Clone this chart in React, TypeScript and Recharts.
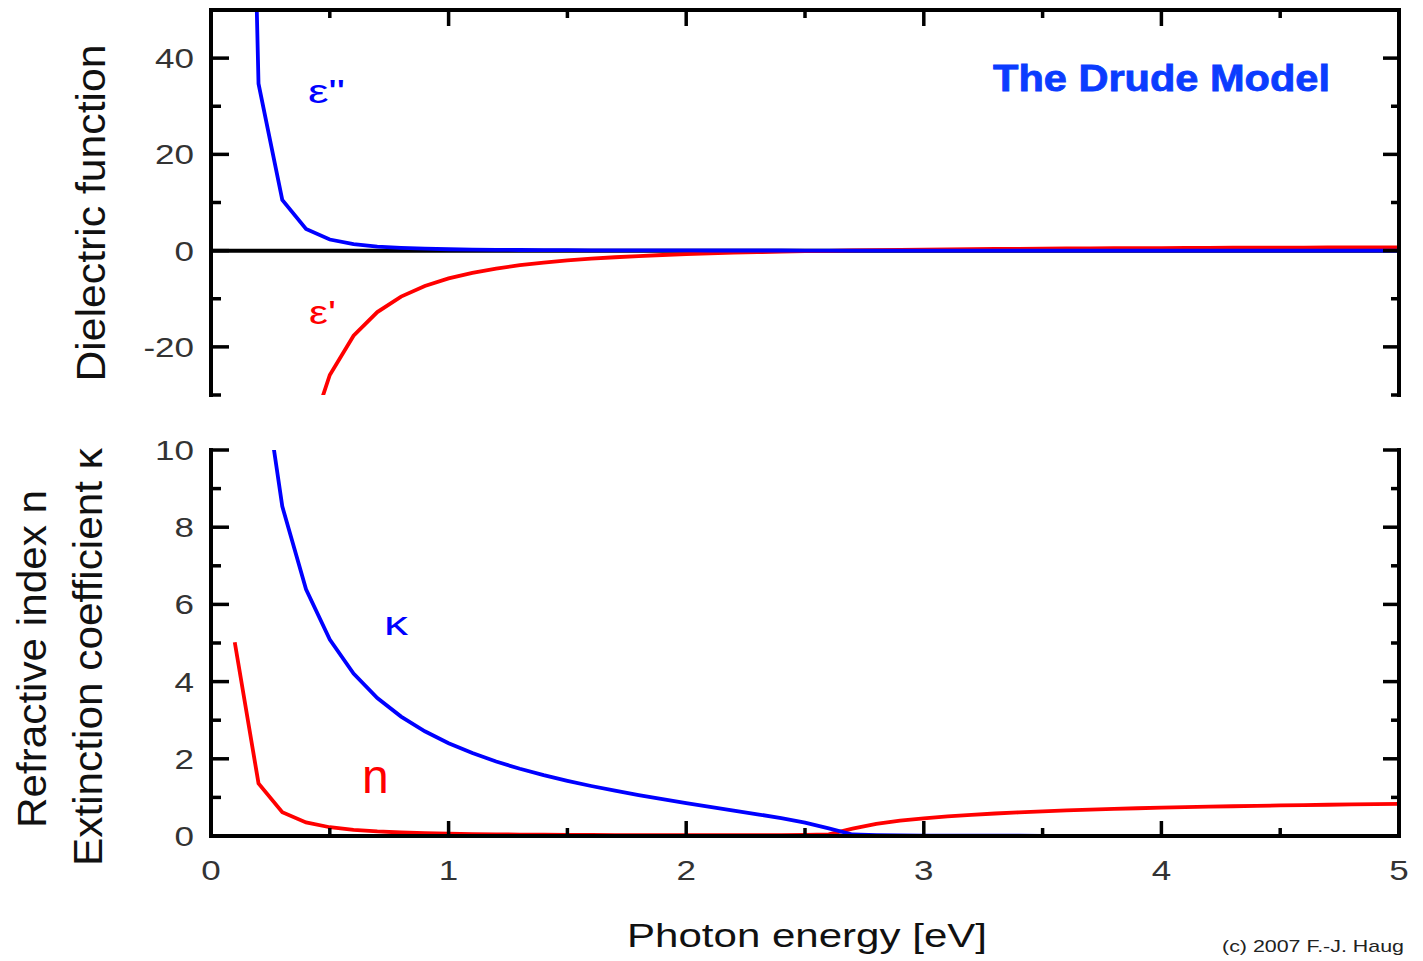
import React from 'react';
import { LineChart, Line, XAxis, YAxis, ReferenceLine } from 'recharts';

// Photon energy [eV]
const energy = [
  0.1, 0.2, 0.3, 0.4, 0.5, 0.6, 0.7, 0.8, 0.9, 1.0,
  1.1, 1.2, 1.3, 1.4, 1.5, 1.6, 1.7, 1.8, 1.9, 2.0,
  2.1, 2.2, 2.3, 2.4, 2.5, 2.6, 2.7, 2.8, 2.9, 3.0,
  3.1, 3.2, 3.3, 3.4, 3.5, 3.6, 3.7, 3.8, 3.9, 4.0,
  4.1, 4.2, 4.3, 4.4, 4.5, 4.6, 4.7, 4.8, 4.9, 5.0,
];

// epsilon' (real part of dielectric function)
const epsReal = [
  -568.7, -160.3, -72.53, -40.75, -25.84, -17.69, -12.76, -9.557, -7.354, -5.778,
  -4.61, -3.722, -3.03, -2.481, -2.038, -1.675, -1.374, -1.122, -0.909, -0.727,
  -0.57, -0.434, -0.316, -0.212, -0.12, -0.038, 0.034, 0.099, 0.158, 0.21,
  0.258, 0.301, 0.34, 0.376, 0.409, 0.439, 0.467, 0.493, 0.516, 0.538,
  0.559, 0.577, 0.595, 0.611, 0.627, 0.641, 0.654, 0.667, 0.679, 0.69,
];

// epsilon'' (imaginary part of dielectric function)
const epsImag = [
  244.9, 34.68, 10.53, 4.48, 2.31, 1.34, 0.84, 0.57, 0.4, 0.29,
  0.22, 0.17, 0.13, 0.11, 0.086, 0.071, 0.059, 0.05, 0.042, 0.036,
  0.031, 0.027, 0.024, 0.021, 0.019, 0.017, 0.015, 0.013, 0.012, 0.011,
  0.0097, 0.0089, 0.0081, 0.0074, 0.0068, 0.0062, 0.0057, 0.0053, 0.0049, 0.0045,
  0.0042, 0.0039, 0.0037, 0.0034, 0.0032, 0.003, 0.0028, 0.0026, 0.0025, 0.0023,
];

// refractive index n
const nVals = [
  5.02, 1.362, 0.617, 0.351, 0.227, 0.159, 0.118, 0.091, 0.073, 0.06,
  0.051, 0.044, 0.038, 0.034, 0.03, 0.027, 0.025, 0.024, 0.022, 0.021,
  0.021, 0.021, 0.021, 0.023, 0.027, 0.041, 0.189, 0.316, 0.397, 0.459,
  0.508, 0.549, 0.583, 0.613, 0.64, 0.663, 0.683, 0.702, 0.719, 0.734,
  0.747, 0.76, 0.771, 0.782, 0.792, 0.801, 0.809, 0.817, 0.824, 0.831,
];

// extinction coefficient kappa
const kappaVals = [
  24.37, 12.735, 8.539, 6.393, 5.089, 4.21, 3.575, 3.093, 2.713, 2.404,
  2.148, 1.93, 1.741, 1.575, 1.428, 1.295, 1.173, 1.06, 0.954, 0.853,
  0.755, 0.659, 0.562, 0.461, 0.347, 0.2, 0.039, 0.021, 0.015, 0.012,
  0.0096, 0.0081, 0.0069, 0.006, 0.0053, 0.0047, 0.0042, 0.0038, 0.0034, 0.0031,
  0.0028, 0.0026, 0.0024, 0.0022, 0.002, 0.0019, 0.0017, 0.0016, 0.0015, 0.0014,
];

const xTicks = [0, 0.5, 1, 1.5, 2, 2.5, 3, 3.5, 4, 4.5, 5];
const xMajor = [0, 1, 2, 3, 4, 5];
const xTickLabels = [0, 1, 2, 3, 4, 5];
const epsTicks = [-30, -20, -10, 0, 10, 20, 30, 40];
const epsMajor = [-20, 0, 20, 40];
const epsTickLabels = [-20, 0, 20, 40];
const nkTicks = [0, 1, 2, 3, 4, 5, 6, 7, 8, 9, 10];
const nkMajor = [0, 2, 4, 6, 8, 10];
const nkTickLabels = [0, 2, 4, 6, 8, 10];

const topData = energy.map((e, i) => ({ e, epsReal: epsReal[i], epsImag: epsImag[i] }));
const bottomData = energy.map((e, i) => ({ e, n: nVals[i], k: kappaVals[i] }));

const FONT = '"Liberation Sans", Arial, Helvetica, sans-serif';
const AXIS_LINE = { stroke: '#000', strokeWidth: 4, strokeLinecap: 'square' as const };
const TICK_W = 3.5;
const LINE_W = 3.8;
const BLUE = '#0000ff';
const RED = '#ff0000';

type Side = 'left' | 'right' | 'top' | 'bottom';

function makeTick(side: Side, major: number[], labels: number[] | null, majorLen: number, minorLen: number) {
  return (props: any) => {
    const { x, y, payload } = props;
    const v = payload.value;
    const isMajor = major.includes(v);
    const len = isMajor ? majorLen : minorLen;
    const show = labels ? labels.includes(v) : false;
    let x2 = x;
    let y2 = y;
    if (side === 'left') x2 = x + len;
    if (side === 'right') x2 = x - len;
    if (side === 'top') y2 = y + len;
    if (side === 'bottom') y2 = y - len;
    let label = null;
    if (show && side === 'left') {
      label = (
        <text
          transform={`translate(${x - 17},${y + 10}) scale(1.25,1)`}
          textAnchor="end"
          fontFamily={FONT}
          fontSize={28}
          fill="#333"
        >
          {v}
        </text>
      );
    }
    if (show && side === 'bottom') {
      label = (
        <text
          transform={`translate(${x},${y + 44}) scale(1.25,1)`}
          textAnchor="middle"
          fontFamily={FONT}
          fontSize={28}
          fill="#333"
        >
          {v}
        </text>
      );
    }
    return (
      <g>
        <line x1={x} y1={y} x2={x2} y2={y2} stroke="#000" strokeWidth={TICK_W} />
        {label}
      </g>
    );
  };
}

function TopChart() {
  return (
    <LineChart
      width={1423}
      height={400}
      data={topData}
      margin={{ top: 9, right: 23, bottom: 5, left: 0 }}
    >
      <XAxis
        dataKey="e"
        type="number"
        orientation="top"
        domain={[0, 5]}
        ticks={xTicks}
        interval={0}
        allowDataOverflow
        height={1}
        tickSize={0}
        tickMargin={0}
        tickLine={false}
        axisLine={AXIS_LINE}
        tick={makeTick('top', xMajor, null, 16, 8)}
      />
      <YAxis
        type="number"
        domain={[-30, 50]}
        ticks={epsTicks}
        interval={0}
        allowDataOverflow
        width={211}
        tickSize={0}
        tickMargin={0}
        tickLine={false}
        axisLine={AXIS_LINE}
        tick={makeTick('left', epsMajor, epsTickLabels, 18, 10)}
      />
      <YAxis
        yAxisId="r"
        orientation="right"
        type="number"
        domain={[-30, 50]}
        ticks={epsTicks}
        interval={0}
        allowDataOverflow
        width={1}
        tickSize={0}
        tickMargin={0}
        tickLine={false}
        axisLine={AXIS_LINE}
        tick={makeTick('right', epsMajor, null, 16, 8)}
      />
      <ReferenceLine y={0} stroke="#000" strokeWidth={4} ifOverflow="hidden" />
      <Line
        type="linear"
        dataKey="epsReal"
        stroke={RED}
        strokeWidth={LINE_W}
        dot={false}
        activeDot={false}
        isAnimationActive={false}
      />
      <Line
        type="linear"
        dataKey="epsImag"
        stroke={BLUE}
        strokeWidth={LINE_W}
        dot={false}
        activeDot={false}
        isAnimationActive={false}
      />
    </LineChart>
  );
}

function BottomChart() {
  return (
    <LineChart
      width={1423}
      height={500}
      data={bottomData}
      margin={{ top: 50, right: 23, bottom: 63, left: 0 }}
    >
      <XAxis
        dataKey="e"
        type="number"
        orientation="bottom"
        domain={[0, 5]}
        ticks={xTicks}
        interval={0}
        allowDataOverflow
        height={1}
        tickSize={0}
        tickMargin={0}
        tickLine={false}
        axisLine={AXIS_LINE}
        tick={makeTick('bottom', xMajor, xTickLabels, 15, 8)}
      />
      <YAxis
        type="number"
        domain={[0, 10]}
        ticks={nkTicks}
        interval={0}
        allowDataOverflow
        width={211}
        tickSize={0}
        tickMargin={0}
        tickLine={false}
        axisLine={AXIS_LINE}
        tick={makeTick('left', nkMajor, nkTickLabels, 18, 10)}
      />
      <YAxis
        yAxisId="r"
        orientation="right"
        type="number"
        domain={[0, 10]}
        ticks={nkTicks}
        interval={0}
        allowDataOverflow
        width={1}
        tickSize={0}
        tickMargin={0}
        tickLine={false}
        axisLine={AXIS_LINE}
        tick={makeTick('right', nkMajor, null, 16, 8)}
      />
      <Line
        type="linear"
        dataKey="n"
        stroke={RED}
        strokeWidth={LINE_W}
        dot={false}
        activeDot={false}
        isAnimationActive={false}
      />
      <Line
        type="linear"
        dataKey="k"
        stroke={BLUE}
        strokeWidth={LINE_W}
        dot={false}
        activeDot={false}
        isAnimationActive={false}
      />
    </LineChart>
  );
}

function Overlay() {
  return (
    <svg
      width={1423}
      height={961}
      style={{ position: 'absolute', left: 0, top: 0, pointerEvents: 'none' }}
    >
      <text
        x={993}
        y={91}
        fontFamily={FONT}
        fontWeight="bold"
        fontSize={36}
        fill="#0b3cff"
        stroke="#0b3cff"
        strokeWidth={0.8}
        textLength={337}
        lengthAdjust="spacingAndGlyphs"
      >
        The Drude Model
      </text>
      <text x={308} y={103} fontFamily={FONT} fontSize={34} fill={BLUE} textLength={37} lengthAdjust="spacingAndGlyphs">
        {'ε"'}
      </text>
      <text x={309} y={324} fontFamily={FONT} fontSize={34} fill={RED} textLength={27} lengthAdjust="spacingAndGlyphs">
        {"ε'"}
      </text>
      <text x={384} y={635} fontFamily={FONT} fontSize={34} fill={BLUE} textLength={24} lengthAdjust="spacingAndGlyphs">
        κ
      </text>
      <text x={362} y={793} fontFamily={FONT} fontSize={48} fill={RED}>
        n
      </text>
      <text
        transform="translate(105,213) rotate(-90)"
        textAnchor="middle"
        fontFamily={FONT}
        fontSize={40}
        fill="#111"
        textLength={337}
        lengthAdjust="spacingAndGlyphs"
      >
        Dielectric function
      </text>
      <text
        transform="translate(46,659) rotate(-90)"
        textAnchor="middle"
        fontFamily={FONT}
        fontSize={40}
        fill="#111"
        textLength={338}
        lengthAdjust="spacingAndGlyphs"
      >
        Refractive index n
      </text>
      <text
        transform="translate(102,657) rotate(-90)"
        textAnchor="middle"
        fontFamily={FONT}
        fontSize={40}
        fill="#111"
        textLength={418}
        lengthAdjust="spacingAndGlyphs"
      >
        Extinction coefficient κ
      </text>
      <text
        x={627}
        y={947}
        fontFamily={FONT}
        fontSize={33}
        fill="#111"
        textLength={360}
        lengthAdjust="spacingAndGlyphs"
      >
        Photon energy [eV]
      </text>
      <text
        x={1222}
        y={952}
        fontFamily={FONT}
        fontSize={17}
        fill="#222"
        textLength={182}
        lengthAdjust="spacingAndGlyphs"
      >
        (c) 2007  F.-J. Haug
      </text>
    </svg>
  );
}

export default function App() {
  return (
    <div
      style={{
        position: 'absolute',
        left: 0,
        top: 0,
        width: 1423,
        height: 961,
        background: '#fff',
        overflow: 'hidden',
      }}
    >
      <div style={{ position: 'absolute', left: 0, top: 0 }}>
        <TopChart />
      </div>
      <div style={{ position: 'absolute', left: 0, top: 400 }}>
        <BottomChart />
      </div>
      <Overlay />
    </div>
  );
}
